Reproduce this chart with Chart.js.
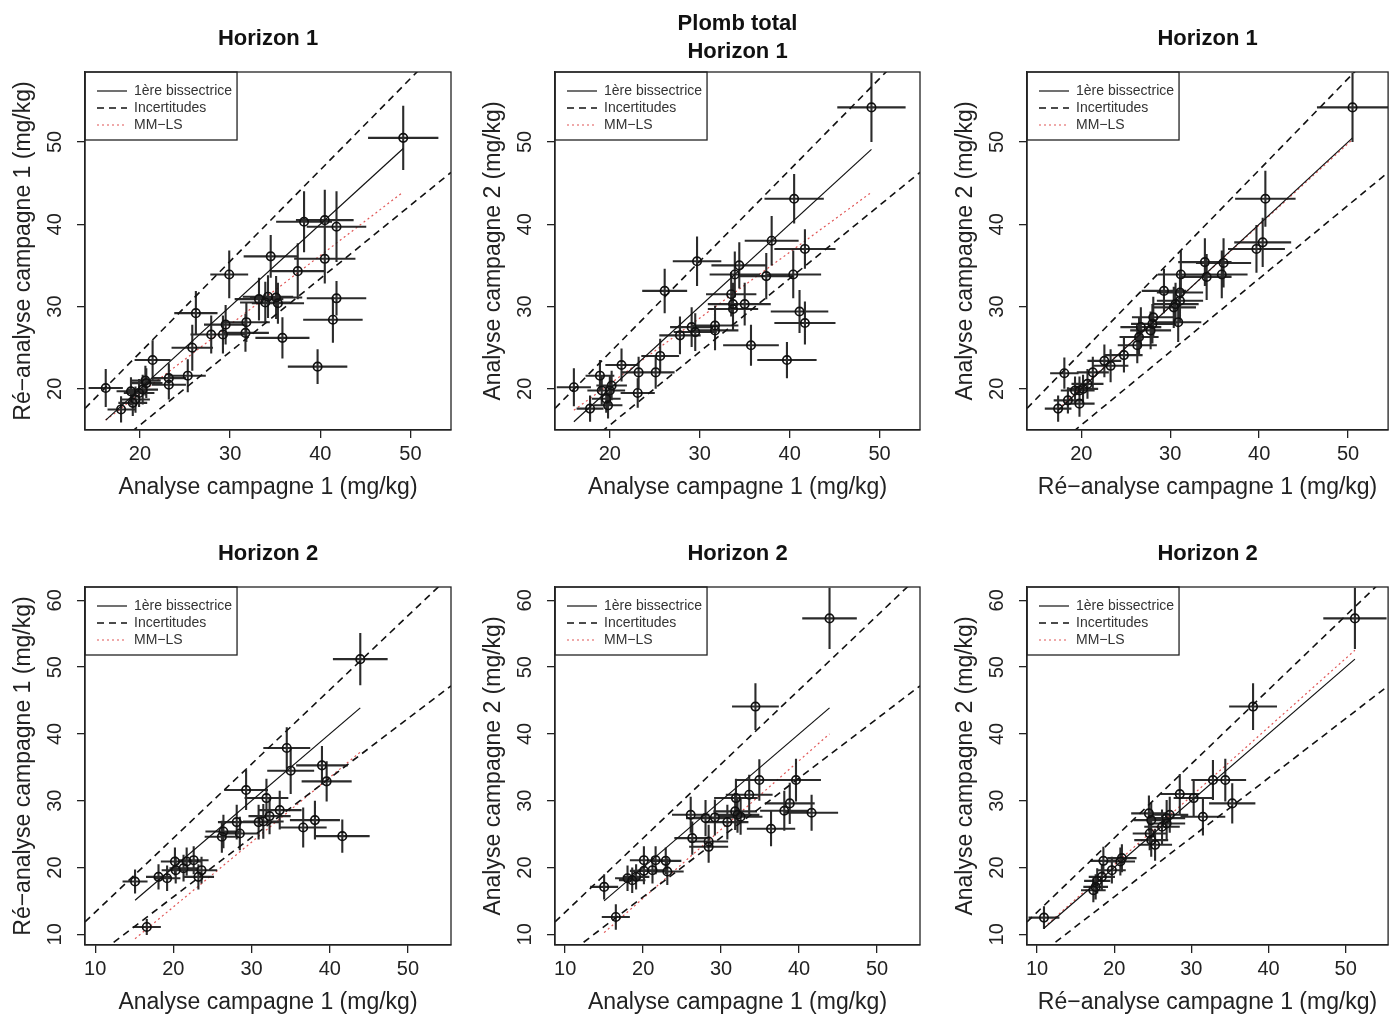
<!DOCTYPE html>
<html>
<head>
<meta charset="utf-8">
<script src="https://cdn.jsdelivr.net/npm/chart.js@4.4.0/dist/chart.umd.min.js"></script>
<style>
  body { margin: 0; background: #fff; width: 1394px; height: 1017px; position: relative; overflow: hidden; }
  canvas { position: absolute; }
</style>
</head>
<body>
<canvas id="p1" width="470" height="502" style="left:0px;top:0px"></canvas>
<canvas id="p2" width="472" height="502" style="left:470px;top:0px"></canvas>
<canvas id="p3" width="452" height="502" style="left:942px;top:0px"></canvas>
<canvas id="p4" width="470" height="502" style="left:0px;top:515px"></canvas>
<canvas id="p5" width="472" height="502" style="left:470px;top:515px"></canvas>
<canvas id="p6" width="452" height="502" style="left:942px;top:515px"></canvas>

<script>
// ---- donnees (mg/kg) ----
// Horizon 1 : campagne 1 vs re-analyse campagne 1
const p1x  = [49.2,38.2,40.5,41.8,40.5,37.5,34.5,29.9,41.8,41.4,39.7,35.8,33.2,33.9,35.1,35.3,34.2,31.8,31.7,29.5,29.2,27.9,26.2,25.8,25.3,23.2,23.2,21.4,20.7,20.3,19.9,19.5,19.0,19.2,17.9,16.2,20.6];
const p1y  = [50.5,40.3,40.5,39.7,35.8,34.3,36.1,33.9,31.0,28.4,22.7,26.2,30.9,30.5,31.1,30.4,31.2,28.1,26.8,27.8,26.6,26.6,29.2,25.0,21.6,21.3,20.5,23.5,20.7,19.9,19.5,18.7,19.7,18.3,17.5,20.1,21.0];
const p1ex = [3.9,3.1,3.2,3.3,3.4,3.0,3.0,2.1,3.3,3.3,3.3,3.0,2.7,2.8,2.9,2.9,2.8,2.6,2.6,2.4,2.4,2.3,2.4,2.3,2.0,1.9,1.9,2.0,1.8,1.7,1.7,1.6,1.6,1.6,1.5,1.9,1.7];
const p1ey = [3.9,3.7,3.7,4.3,3.0,3.4,2.6,2.9,2.1,2.8,2.1,2.5,2.6,2.5,2.6,2.5,2.6,2.4,2.3,2.4,2.3,2.3,2.7,2.8,2.0,1.8,1.8,2.4,1.8,1.8,1.7,1.6,1.7,1.6,1.6,2.3,1.8];

// Horizon 1 : campagne 1 vs campagne 2
const p2x  = [49.1,40.5,38.0,41.7,40.4,37.4,34.4,33.9,29.7,26.1,41.1,41.7,39.7,35.7,33.5,33.7,33.7,35.0,31.7,31.7,29.1,29.5,27.8,25.6,25.1,23.2,23.1,21.3,20.2,20.0,18.9,19.1,19.6,19.8,17.8,16.0];
const p2y  = [54.2,43.1,38.0,37.0,33.9,33.7,35.0,33.9,35.5,31.9,29.4,28.0,23.5,25.3,31.5,30.3,29.7,30.3,27.7,27.1,27.5,26.9,26.5,24.0,22.0,22.0,19.5,22.9,20.4,19.8,21.6,19.8,18.8,18.0,17.6,20.2];
const p2ex = [3.8,3.3,3.0,3.4,3.1,2.9,3.1,2.8,2.7,2.5,3.2,3.4,3.3,3.1,2.8,2.8,2.8,2.9,2.6,2.6,2.4,2.4,2.3,2.1,2.1,2.0,1.9,1.8,1.7,1.7,1.6,1.6,1.6,1.6,1.5,1.9];
const p2ey = [4.2,3.0,3.0,2.4,2.9,2.8,2.8,2.8,3.0,2.7,2.6,2.6,2.2,2.5,2.7,2.6,2.5,2.6,2.4,2.4,2.4,2.3,2.3,2.1,2.0,1.9,1.8,2.0,1.8,1.7,1.9,1.7,1.7,1.6,1.6,2.3];

// Horizon 1 : re-analyse campagne 1 vs campagne 2
const p3x  = [50.5,40.7,40.4,39.7,36.0,33.9,34.1,35.8,31.2,29.3,31.1,30.6,30.4,31.1,30.9,28.1,28.0,27.8,26.7,26.5,26.3,24.8,23.3,22.6,21.3,20.7,20.2,19.8,19.3,18.1,18.5,17.4,19.8];
const p3y  = [54.2,43.1,37.8,37.0,35.3,35.4,33.6,33.9,33.9,31.9,31.7,30.3,29.9,30.7,28.1,28.7,27.9,27.1,27.5,26.3,25.3,24.1,22.8,23.4,22.0,20.6,20.0,19.8,19.8,21.9,18.6,17.6,18.2];
const p3ex = [4.0,3.4,3.2,3.2,3.1,3.0,2.8,2.9,2.6,2.5,2.6,2.6,2.5,2.6,2.6,2.4,2.4,2.3,2.3,2.2,2.2,2.1,2.0,1.9,1.8,1.8,1.7,1.7,1.6,1.6,1.6,1.5,1.7];
const p3ey = [4.2,3.4,3.0,2.9,3.0,2.9,2.8,2.9,2.9,2.7,2.7,2.6,2.5,2.6,2.4,2.5,2.4,2.3,2.4,2.3,2.2,2.1,2.0,2.0,1.9,1.8,1.7,1.7,1.7,1.9,1.6,1.6,1.6];

// Horizon 2 : campagne 1 vs re-analyse campagne 1
const p4x  = [43.9,34.5,35.0,39.0,39.6,29.3,31.9,33.6,32.3,30.9,31.5,38.1,36.6,41.6,28.1,28.5,26.4,26.2,22.6,21.7,20.2,20.3,21.3,23.6,23.2,19.2,18.1,15.1,16.6];
const p4y  = [51.2,37.9,34.5,35.3,32.9,31.6,30.4,28.6,27.7,26.8,26.9,27.1,26.0,24.7,26.8,25.1,25.4,24.6,21.1,20.9,20.9,19.6,19.9,19.6,18.6,18.4,18.6,17.9,11.1];
const p4ex = [3.5,3.0,3.0,3.3,3.2,2.8,2.8,2.8,2.7,2.6,2.6,3.2,3.0,3.5,2.4,2.4,2.3,2.2,1.9,1.9,1.8,1.8,1.8,2.0,2.0,1.7,1.6,1.6,1.8];
const p4ey = [3.9,3.1,3.5,2.9,3.0,3.0,2.9,2.9,2.7,2.6,2.6,2.9,3.0,2.5,2.6,2.5,2.5,2.4,2.1,2.1,2.1,2.0,2.0,2.0,1.9,1.9,1.9,1.8,1.2];

// Horizon 2 : campagne 1 vs campagne 2
const p5x  = [43.9,34.4,39.6,34.9,33.6,31.9,31.8,32.1,32.5,30.8,38.8,38.1,41.6,36.4,26.1,28.0,29.2,26.3,28.4,28.4,20.1,21.6,22.9,23.1,20.1,19.1,18.6,18.0,21.2,15.0,16.5];
const p5y  = [57.3,44.1,33.1,33.1,30.9,30.4,28.4,27.9,27.6,26.8,29.6,28.5,28.2,25.8,27.9,27.4,27.5,24.4,23.9,23.1,21.1,21.1,21.0,19.4,19.5,18.6,18.1,18.4,19.6,17.1,12.6];
const p5ex = [3.5,3.0,3.2,3.1,3.0,2.8,2.8,2.8,2.8,2.7,3.2,3.1,3.4,3.1,2.4,2.5,2.5,2.3,2.5,2.5,1.8,1.9,2.0,2.1,1.8,1.7,1.7,1.6,1.9,1.8,1.8];
const p5ey = [4.6,3.5,3.2,3.1,3.0,2.9,2.8,2.7,2.7,2.6,3.1,3.0,2.7,2.6,2.7,2.7,2.7,2.5,2.5,2.4,2.1,2.1,2.0,2.0,2.0,1.9,1.9,1.9,2.0,1.9,1.9];

// Horizon 2 : re-analyse campagne 1 vs campagne 2
const p6x  = [51.2,38.0,32.8,34.4,35.3,31.5,30.3,28.5,27.2,26.8,26.8,24.5,24.8,26.2,24.8,25.3,24.6,21.0,20.8,18.6,19.7,18.4,17.8,17.6,17.3,10.9];
const p6y  = [57.3,44.1,33.1,33.1,29.6,27.6,30.4,31.0,27.9,27.4,26.6,28.1,27.1,26.1,24.1,23.4,25.1,21.4,20.9,21.0,19.6,18.6,18.0,17.1,16.6,12.5];
const p6ex = [4.1,3.1,2.8,2.7,3.0,2.9,2.6,2.5,2.4,2.4,2.4,2.3,2.3,2.3,2.2,2.2,2.2,1.9,1.9,1.7,1.8,1.7,1.7,1.6,1.6,2.0];
const p6ey = [4.6,3.5,3.0,3.2,3.0,2.8,2.7,3.0,2.7,2.7,2.6,2.7,2.6,2.6,2.5,2.4,2.5,2.1,2.1,2.1,2.0,1.9,1.9,1.9,1.8,1.7];

// droites MM-LS (pente, ordonnee a l'origine) par panneau
const mmlsSlope     = [0.84, 0.80, 0.99, 0.97, 1.03, 1.03];
const mmlsIntercept = [2.6, 4.6, 0.3, -5.3, -5.2, -0.2];
// incertitude : U = a + b * x
const uncert = [2.2, 0.11];

// graduations
const topXTicks = [20, 30, 40, 50];
const topYTicks = [20, 30, 40, 50];
const botXTicks = [10, 20, 30, 40, 50];
const botYTicks = [10, 20, 30, 40, 50, 60];
const topXRange = [13.9, 54.5];
const topYRange = [15.0, 58.5];
const botXRange = [8.7, 55.5];
const botYRange = [8.4, 62.0];

const FONT = '"Liberation Sans", Arial, sans-serif';
const INK = '#222';

const frame = {
  id: 'frame',
  afterLayout(chart) {
    const lg = chart.legend, ca = chart.chartArea;
    lg.left = ca.left + 9; lg.top = ca.top;
    lg.right = lg.left + lg.width; lg.bottom = ca.top + lg.height;
  },
  afterDraw(chart) {
    const ctx = chart.ctx, ca = chart.chartArea;
    ctx.save();
    ctx.strokeStyle = INK;
    ctx.lineWidth = 1.3;
    ctx.setLineDash([]);
    ctx.strokeRect(ca.left, ca.top, ca.right - ca.left, ca.bottom - ca.top);
    // cadre de la legende
    const hb = chart.legend.legendHitBoxes;
    if (hb && hb.length) {
      const r = Math.max(...hb.map(h => h.left + h.width)) + 5;
      const last = hb[hb.length - 1];
      ctx.strokeRect(ca.left, ca.top, r - ca.left, last.top + last.height + 8 - ca.top);
    }
    ctx.restore();
  }
};

function panel(id, k, title, xTitle, yTitle, xs, ys, exs, eys, xTicks, yTicks, xRange, yRange, padRight) {
  const xMin = Math.min(...xs), xMax = Math.max(...xs);
  const errs = [];
  xs.forEach((x, i) => {
    const y = ys[i];
    errs.push({x: x - exs[i], y: y}, {x: x + exs[i], y: y}, {x: x, y: null});
    errs.push({x: x, y: y - eys[i]}, {x: x, y: y + eys[i]}, {x: x, y: null});
  });
  const band = s => xRange.map(x => ({x: x, y: x + s * (uncert[0] + uncert[1] * x)}));
  const mm = x => ({x: x, y: mmlsSlope[k] * x + mmlsIntercept[k]});
  const line = {showLine: true, pointRadius: 0, spanGaps: false, fill: false};

  new Chart(document.getElementById(id), {
    type: 'scatter',
    data: {
      datasets: [
        {label: 'points', data: xs.map((x, i) => ({x: x, y: ys[i]})), pointRadius: 4.2, pointBorderWidth: 1.7,
         pointBorderColor: '#111', pointBackgroundColor: 'rgba(0,0,0,0)'},
        Object.assign({label: 'erreurs', data: errs, borderColor: 'rgba(20,20,20,0.9)', borderWidth: 2.1}, line),
        Object.assign({label: '1ère bissectrice', data: [{x: xMin, y: xMin}, {x: xMax, y: xMax}], borderColor: '#111', borderWidth: 1.2}, line),
        Object.assign({label: 'Incertitudes', data: band(1), borderColor: '#111', borderWidth: 1.6, borderDash: [7, 5]}, line),
        Object.assign({label: 'Incertitudes-', data: band(-1), borderColor: '#111', borderWidth: 1.6, borderDash: [7, 5]}, line),
        Object.assign({label: 'MM−LS', data: [mm(xMin), mm(xMax)], borderColor: '#e05555', borderWidth: 1.2, borderDash: [2, 3]}, line)
      ]
    },
    options: {
      responsive: false,
      animation: false,
      events: [],
      layout: {padding: {left: 0, right: padRight, top: 0, bottom: 1}},
      scales: {
        x: {
          type: 'linear', min: xRange[0], max: xRange[1],
          afterBuildTicks: s => { s.ticks = xTicks.map(v => ({value: v})); },
          afterFit: s => { s.height = 71; },
          ticks: {font: {family: FONT, size: 20}, color: INK, padding: 4, autoSkip: false, maxRotation: 0},
          grid: {drawOnChartArea: false, drawTicks: true, tickLength: 8, color: INK, lineWidth: 1.3},
          border: {display: true, color: INK, width: 1.3},
          title: {display: true, text: xTitle, font: {family: FONT, size: 23}, color: INK, padding: {top: 0, bottom: 0}}
        },
        y: {
          type: 'linear', min: yRange[0], max: yRange[1],
          afterBuildTicks: s => { s.ticks = yTicks.map(v => ({value: v})); },
          afterFit: s => { s.width = 85; },
          ticks: {font: {family: FONT, size: 20}, color: INK, padding: 10, autoSkip: false,
                  minRotation: 90, maxRotation: 90, crossAlign: 'center'},
          grid: {drawOnChartArea: false, drawTicks: true, tickLength: 8, color: INK, lineWidth: 1.3},
          border: {display: true, color: INK, width: 1.3},
          title: {display: true, text: yTitle, font: {family: FONT, size: 23}, color: INK, padding: {top: 10, bottom: 0}}
        }
      },
      plugins: {
        tooltip: {enabled: false},
        title: {
          display: true, text: title, fullSize: false, color: '#111',
          font: {family: FONT, size: 22, weight: 'bold', lineHeight: '28px'},
          padding: title.length > 1 ? {top: 10, bottom: 6} : {top: 25, bottom: 19}
        },
        legend: {
          position: 'chartArea', align: 'start',
          title: {display: true, text: '', font: {size: 1, lineHeight: 1}, padding: 4},
          labels: {
            usePointStyle: true, pointStyle: 'line', pointStyleWidth: 30, padding: 3,
            font: {family: FONT, size: 14}, color: '#333',
            generateLabels: chart => [2, 3, 5].map(i => {
              const ds = chart.data.datasets[i];
              return {text: ds.label, datasetIndex: i, strokeStyle: ds.borderColor, fillStyle: 'rgba(0,0,0,0)',
                      lineWidth: ds.borderWidth, lineDash: ds.borderDash || [], pointStyle: 'line',
                      fontColor: '#333', hidden: false};
            })
          }
        }
      }
    },
    plugins: [frame]
  });
}

const ax1 = 'Analyse campagne 1 (mg/kg)';
const axR = 'Ré−analyse campagne 1 (mg/kg)';
const ax2 = 'Analyse campagne 2 (mg/kg)';

panel('p1', 0, ['Horizon 1'], ax1, axR, p1x, p1y, p1ex, p1ey, topXTicks, topYTicks, topXRange, topYRange, 19);
panel('p2', 1, ['Plomb total', 'Horizon 1'], ax1, ax2, p2x, p2y, p2ex, p2ey, topXTicks, topYTicks, topXRange, topYRange, 22);
panel('p3', 2, ['Horizon 1'], axR, ax2, p3x, p3y, p3ex, p3ey, topXTicks, topYTicks, topXRange, topYRange, 2);
panel('p4', 3, ['Horizon 2'], ax1, axR, p4x, p4y, p4ex, p4ey, botXTicks, botYTicks, botXRange, botYRange, 19);
panel('p5', 4, ['Horizon 2'], ax1, ax2, p5x, p5y, p5ex, p5ey, botXTicks, botYTicks, botXRange, botYRange, 22);
panel('p6', 5, ['Horizon 2'], axR, ax2, p6x, p6y, p6ex, p6ey, botXTicks, botYTicks, botXRange, botYRange, 2);
</script>
</body>
</html>
